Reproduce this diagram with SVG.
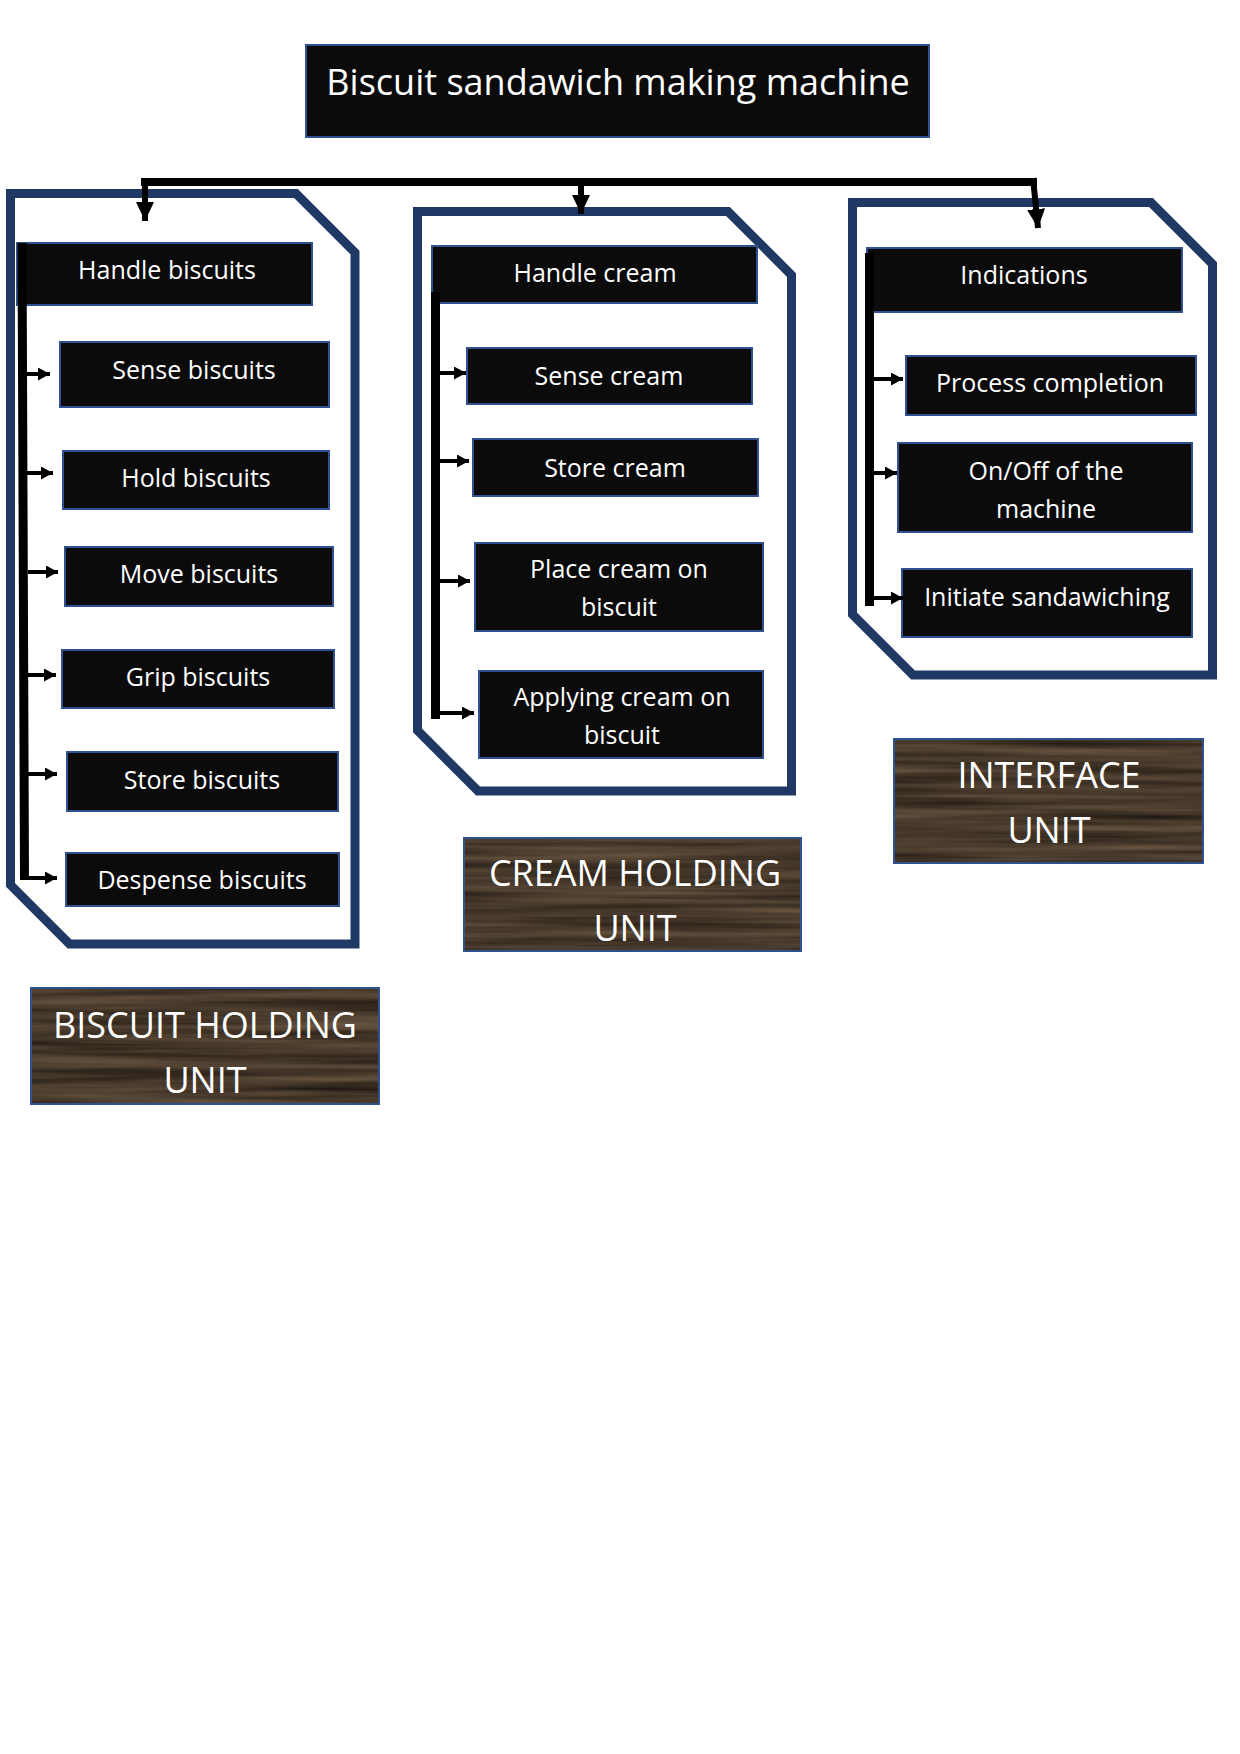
<svg xmlns="http://www.w3.org/2000/svg" width="1240" height="1754" viewBox="0 0 1240 1754">
<defs>
<style>
.node rect.b{fill:#0b0b0b;stroke:#2f528f;stroke-width:2}
.t{font-family:"Open Sans","Noto Sans",sans-serif;fill:#ffffff;text-anchor:middle}
.nt{font-size:25px}
.lt{font-size:36px}
.cont{fill:#ffffff;stroke:#203864;stroke-width:9;stroke-linejoin:miter}
.vl{stroke:#000;stroke-width:9;fill:none}
.sa{stroke:#000;stroke-width:4;fill:none;marker-end:url(#ah)}
.ta{stroke:#000;stroke-width:6;fill:none;marker-end:url(#bh)}
.lab rect.f{filter:url(#wood)}
.lab rect.o{fill:none;stroke:#2f528f;stroke-width:2}
</style>
<marker id="ah" markerUnits="userSpaceOnUse" markerWidth="13" markerHeight="13" refX="12" refY="6.5" orient="auto">
<path d="M0,0 L12,6.5 L0,13 Z" fill="#000"/>
</marker>
<marker id="bh" markerUnits="userSpaceOnUse" markerWidth="20" markerHeight="18" refX="19" refY="9" orient="auto">
<path d="M0,0 L19,9 L0,18 Z" fill="#000"/>
</marker>
<filter id="wood" x="0" y="0" width="1" height="1" color-interpolation-filters="sRGB">
<feTurbulence type="fractalNoise" baseFrequency="0.004 0.13" numOctaves="3" seed="7" result="n"/>
<feColorMatrix in="n" type="matrix" values="0.36 0 0 0 0.10  0.30 0 0 0 0.075  0.24 0 0 0 0.05  0 0 0 0 1"/>
</filter>
</defs>
<rect width="1240" height="1754" fill="#ffffff"/>

<g id="containers">
<path id="biscuit-container" class="cont" d="M10.5,193.5 L296,193.5 L355,252.5 L355,944 L69.5,944 L10.5,885 Z"/>
<path id="cream-container" class="cont" d="M417.5,211.5 L728,211.5 L791.5,275 L791.5,791 L478,791 L417.5,730.5 Z"/>
<path id="interface-container" class="cont" d="M852.5,202.5 L1151,202.5 L1212.5,264 L1212.5,675 L913,675 L852.5,614.5 Z"/>
</g>

<g id="title" class="node">
<rect class="b" x="306" y="45" width="623" height="92" fill="#000"/>
<text class="t" x="618" y="95" font-size="36">Biscuit sandawich making machine</text>
</g>

<g id="handle-biscuits" class="node"><rect class="b" x="17" y="243" width="295" height="62"/><text class="t nt" x="167" y="279">Handle biscuits</text></g>
<g id="sense-biscuits" class="node"><rect class="b" x="60" y="342" width="269" height="65"/><text class="t nt" x="194" y="379">Sense biscuits</text></g>
<g id="hold-biscuits" class="node"><rect class="b" x="63" y="451" width="266" height="58"/><text class="t nt" x="196" y="487">Hold biscuits</text></g>
<g id="move-biscuits" class="node"><rect class="b" x="65" y="547" width="268" height="59"/><text class="t nt" x="199" y="583">Move biscuits</text></g>
<g id="grip-biscuits" class="node"><rect class="b" x="62" y="650" width="272" height="58"/><text class="t nt" x="198" y="686">Grip biscuits</text></g>
<g id="store-biscuits" class="node"><rect class="b" x="67" y="752" width="271" height="59"/><text class="t nt" x="202" y="789">Store biscuits</text></g>
<g id="despense-biscuits" class="node"><rect class="b" x="66" y="853" width="273" height="53"/><text class="t nt" x="202" y="889">Despense biscuits</text></g>

<g id="handle-cream" class="node"><rect class="b" x="432" y="246" width="325" height="57"/><text class="t nt" x="595" y="282">Handle cream</text></g>
<g id="sense-cream" class="node"><rect class="b" x="467" y="348" width="285" height="56"/><text class="t nt" x="609" y="385">Sense cream</text></g>
<g id="store-cream" class="node"><rect class="b" x="473" y="439" width="285" height="57"/><text class="t nt" x="615" y="477">Store cream</text></g>
<g id="place-cream" class="node"><rect class="b" x="475" y="543" width="288" height="88"/><text class="t nt" x="619" y="578">Place cream on</text><text class="t nt" x="619" y="616">biscuit</text></g>
<g id="applying-cream" class="node"><rect class="b" x="479" y="671" width="284" height="87"/><text class="t nt" x="622" y="706">Applying cream on</text><text class="t nt" x="622" y="744">biscuit</text></g>

<g id="indications" class="node"><rect class="b" x="867" y="248" width="315" height="64"/><text class="t nt" x="1024" y="284">Indications</text></g>
<g id="process-completion" class="node"><rect class="b" x="906" y="356" width="290" height="59"/><text class="t nt" x="1050" y="392">Process completion</text></g>
<g id="onoff" class="node"><rect class="b" x="898" y="443" width="294" height="89"/><text class="t nt" x="1046" y="480">On/Off of the</text><text class="t nt" x="1046" y="518">machine</text></g>
<g id="initiate" class="node"><rect class="b" x="902" y="569" width="290" height="68"/><text class="t nt" x="1047" y="606">Initiate sandawiching</text></g>

<g id="biscuit-label" class="lab"><rect class="f" x="31" y="988" width="348" height="116"/><rect class="o" x="31" y="988" width="348" height="116"/><text class="t lt" x="205" y="1038">BISCUIT HOLDING</text><text class="t lt" x="205" y="1093">UNIT</text></g>
<g id="cream-label" class="lab"><rect class="f" x="464" y="838" width="337" height="113"/><rect class="o" x="464" y="838" width="337" height="113"/><text class="t lt" x="635" y="886">CREAM HOLDING</text><text class="t lt" x="635" y="941">UNIT</text></g>
<g id="interface-label" class="lab"><rect class="f" x="894" y="739" width="309" height="124"/><rect class="o" x="894" y="739" width="309" height="124"/><text class="t lt" x="1049" y="788">INTERFACE</text><text class="t lt" x="1049" y="843">UNIT</text></g>

<g id="connectors">
<path d="M141,182 H1037" stroke="#000" stroke-width="8" fill="none"/>
<path class="ta" d="M145,178 V221"/>
<path class="ta" d="M581,186 V214"/>
<path class="ta" d="M1033,178 L1038,228"/>
<path class="vl" d="M22,243 L24.5,880"/>
<path class="sa" d="M27,374 H50"/>
<path class="sa" d="M27,473 H53"/>
<path class="sa" d="M28,572 H58"/>
<path class="sa" d="M28,675 H56"/>
<path class="sa" d="M28,774 H57"/>
<path class="sa" d="M29,878 H57"/>
<path class="vl" d="M435.5,292 V719"/>
<path class="sa" d="M440,373 H466"/>
<path class="sa" d="M440,461 H469"/>
<path class="sa" d="M440,581 H470"/>
<path class="sa" d="M440,713 H474"/>
<path class="vl" d="M869.5,253 V606"/>
<path class="sa" d="M874,379 H903"/>
<path class="sa" d="M874,473 H897"/>
<path class="sa" d="M874,598 H903"/>
</g>
</svg>
